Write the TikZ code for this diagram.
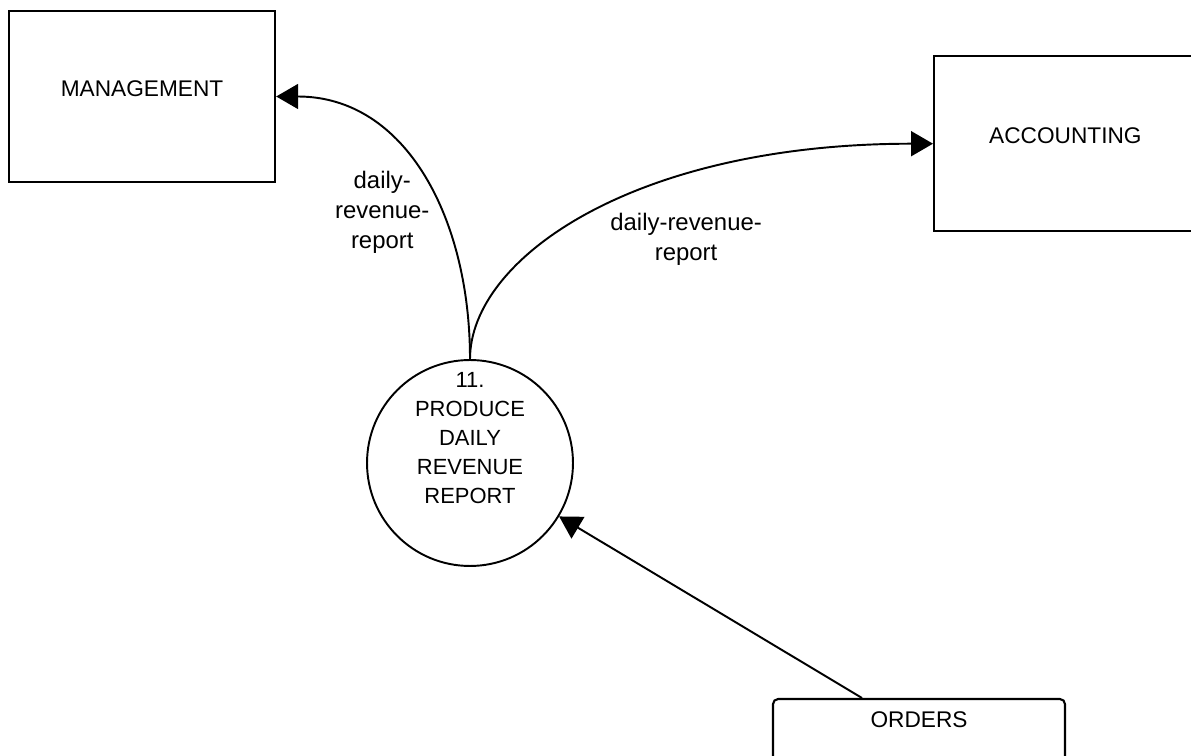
\documentclass[tikz,border=0pt]{standalone}
\usepackage{fontspec}
\setmainfont{Liberation Sans}
\usetikzlibrary{shapes, arrows.meta}

\begin{document}
\begin{tikzpicture}[x=0.02cm, y=-0.02cm, line width=1.1pt,
    entity/.style={draw, rectangle, line width=1.4pt, font=\fontsize{12.9}{16.5}\selectfont, text depth=0.3cm},
    process/.style={draw, circle, minimum size=4.12cm, inner sep=-0.1cm, align=center, font=\fontsize{12.5}{16.5}\selectfont, text depth=1.02cm},
    store/.style={draw, rectangle, rounded corners=0.1cm, line width=1.2pt, font=\fontsize{12.9}{16.5}\selectfont, minimum width=5.84cm, inner ysep=0.26cm, text depth=1.5cm},
    flow/.style={-{Triangle[length=0.44cm, width=0.5cm]}},
    flowlabel/.style={align=center, font=\fontsize{13.6}{17.1}\selectfont}]
        % page frame, the accounting box and the store run off the edge
        \useasboundingbox (0,0) rectangle (1191,756);
        \clip (0,0) rectangle (1191,756);

        \node (mgmt) [entity, minimum width=5.32cm, minimum height=3.42cm] at (142,96.5) {MANAGEMENT};
        \node (acct) [entity, anchor=north west, minimum height=3.5cm, text width=4cm, align=left, inner xsep=1.1cm, text depth=0.34cm] at (933,55) {ACCOUNTING};
        \node (proc) [process] at (470,463) {11.\\PRODUCE\\DAILY\\REVENUE\\REPORT};
        \node (orders) [store, anchor=north] at (919,698) {ORDERS};

        \draw[flow] (proc.north) .. controls +(0,-140) and +(130,0) .. (mgmt.east)
            node[flowlabel, pos=0.4, anchor=east, xshift=-0.06cm, yshift=-0.12cm] (mgmtrep) {daily-\\revenue-\\report};
        \draw[flow] (proc.north) .. controls +(0,-100) and +(-300,0) .. (acct.west)
            node[flowlabel, pos=0.55, anchor=north west, xshift=-0.2cm, yshift=-0.08cm] (acctrep) {daily-revenue-\\report};
        \draw[flow] ([xshift=-1.14cm]orders.north) -- (proc);
    \end{tikzpicture}
\end{document}
